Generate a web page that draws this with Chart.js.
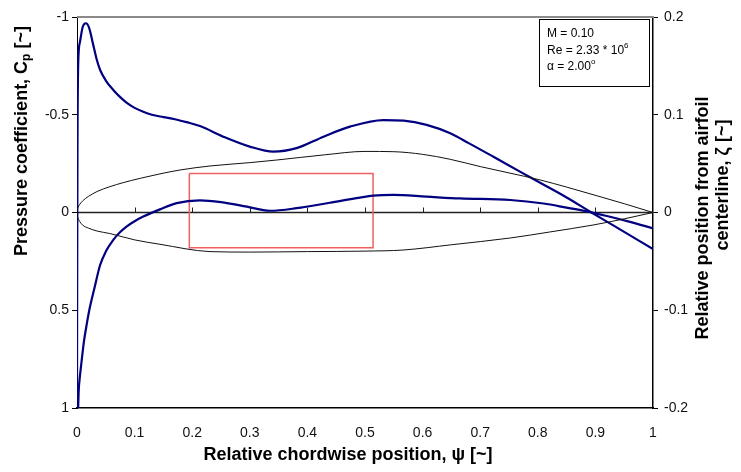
<!DOCTYPE html>
<html>
<head>
<meta charset="utf-8">
<script src="https://cdn.jsdelivr.net/npm/chart.js@4/dist/chart.umd.min.js"></script>
<style>
  html, body { margin: 0; padding: 0; background: #fff; }
  #wrap { width: 741px; height: 472px; }
</style>
</head>
<body>
<div id="wrap"><canvas id="c" width="741" height="472"></canvas></div>
<script>
// Pressure distribution, suction side (Cp vs chordwise position)
const upperX  = [0, 0.0002, 0.0008, 0.002, 0.005, 0.01, 0.0155, 0.021, 0.028, 0.034, 0.04, 0.05, 0.063, 0.075, 0.086, 0.1, 0.115, 0.13, 0.15, 0.17, 0.19, 0.2135, 0.254, 0.3, 0.341, 0.381, 0.428, 0.474, 0.532, 0.567, 0.607, 0.648, 0.68, 0.723, 0.769, 0.804, 0.85, 0.891, 0.931, 1.0];
const upperCp = [1.0, 0.5, -0.3, -0.75, -0.87, -0.95, -0.968, -0.945, -0.86, -0.785, -0.73, -0.675, -0.627, -0.59, -0.562, -0.535, -0.515, -0.5, -0.488, -0.477, -0.462, -0.442, -0.388, -0.337, -0.311, -0.329, -0.388, -0.439, -0.473, -0.470, -0.448, -0.405, -0.355, -0.285, -0.209, -0.152, -0.077, -0.004, 0.066, 0.187];

// Pressure distribution, pressure side
const lowerX  = [0.002, 0.003, 0.005, 0.008, 0.012, 0.017, 0.022, 0.03, 0.04, 0.05, 0.063, 0.075, 0.086, 0.1, 0.115, 0.144, 0.173, 0.2135, 0.25, 0.295, 0.335, 0.381, 0.439, 0.491, 0.514, 0.549, 0.607, 0.665, 0.752, 0.81, 0.85, 0.885, 0.92, 0.96, 1.0];
const lowerCp = [1.0, 0.91, 0.84, 0.76, 0.66, 0.57, 0.49, 0.39, 0.27, 0.2, 0.14, 0.1, 0.072, 0.045, 0.021, -0.016, -0.048, -0.062, -0.053, -0.03, -0.009, -0.022, -0.05, -0.076, -0.086, -0.09, -0.081, -0.072, -0.064, -0.046, -0.025, -0.006, 0.018, 0.048, 0.081];

// Airfoil contour (relative position from centerline)
const foilUpperX    = [0, 0.0005, 0.002, 0.005, 0.01, 0.02, 0.035, 0.057, 0.08, 0.11, 0.144, 0.179, 0.231, 0.3, 0.347, 0.43, 0.5, 0.55, 0.6, 0.648, 0.7, 0.75, 0.804, 0.85, 0.908, 0.95, 1.0];
const foilUpperZeta = [0, 0.0027, 0.0054, 0.0085, 0.012, 0.0165, 0.0215, 0.0264, 0.0305, 0.035, 0.0395, 0.0435, 0.0476, 0.051, 0.0537, 0.059, 0.0625, 0.0622, 0.0595, 0.0544, 0.047, 0.0405, 0.0333, 0.026, 0.0162, 0.009, 0];
const foilLowerX    = [0, 0.0005, 0.002, 0.005, 0.01, 0.02, 0.035, 0.057, 0.1, 0.144, 0.231, 0.3, 0.4, 0.5, 0.566, 0.65, 0.752, 0.82, 0.896, 0.95, 1.0];
const foilLowerZeta = [0, -0.003, -0.006, -0.0095, -0.013, -0.016, -0.019, -0.0215, -0.028, -0.0325, -0.04, -0.0405, -0.04, -0.0395, -0.0384, -0.033, -0.0261, -0.02, -0.0128, -0.0065, 0];

// Highlighted region
const boxX    = [0.195, 0.514, 0.514, 0.195, 0.195];
const boxZeta = [0.04, 0.04, -0.036, -0.036, 0.04];

// Axis ticks
const chordTicks = [0, 0.1, 0.2, 0.3, 0.4, 0.5, 0.6, 0.7, 0.8, 0.9, 1];
const cpTicks    = [-1, -0.5, 0, 0.5, 1];
const zetaTicks  = [0.2, 0.1, 0, -0.1, -0.2];

const pts = (xs, ys) => xs.map((x, i) => ({ x, y: ys[i] }));

const FONT = '"Liberation Sans", Arial, Helvetica, sans-serif';
const NAVY = '#000080';

// Draws the zero line, frame, axis titles and the flow-condition box
const decor = {
  id: 'decor',
  beforeDatasetsDraw(chart) {
    const { ctx, chartArea: a, scales } = chart;
    const y0 = scales.y.getPixelForValue(0);
    ctx.save();
    ctx.strokeStyle = '#222';
    ctx.lineWidth = 1.5;
    ctx.beginPath();
    ctx.moveTo(a.left, y0);
    ctx.lineTo(a.right, y0);
    ctx.stroke();
    ctx.lineWidth = 1;
    chordTicks.forEach(v => {
      if (v === 0 || v === 1) return;
      const px = Math.round(scales.x.getPixelForValue(v)) + 0.5;
      ctx.beginPath();
      ctx.moveTo(px, y0);
      ctx.lineTo(px, y0 - 5);
      ctx.stroke();
    });
    ctx.restore();
  },
  afterDraw(chart) {
    const { ctx, chartArea: a } = chart;
    ctx.save();
    // top frame line
    ctx.strokeStyle = '#8a8a8a';
    ctx.lineWidth = 2;
    ctx.beginPath();
    ctx.moveTo(a.left, a.top);
    ctx.lineTo(a.right + 1, a.top);
    ctx.stroke();

    ctx.fillStyle = '#000';
    ctx.textBaseline = 'middle';
    const bold = s => 'bold ' + s + 'px ' + FONT;

    // runs of [text, size, baseline shift]
    const drawRuns = (runs, cx, cy, rot) => {
      ctx.save();
      ctx.translate(cx, cy);
      ctx.rotate(rot);
      let w = 0;
      runs.forEach(r => { ctx.font = bold(r[1]); w += ctx.measureText(r[0]).width; });
      let x = -w / 2;
      ctx.textAlign = 'left';
      runs.forEach(r => {
        ctx.font = bold(r[1]);
        ctx.fillText(r[0], x, r[2]);
        x += ctx.measureText(r[0]).width;
      });
      ctx.restore();
    };

    drawRuns([['Pressure coefficient, C', 18, 0], ['p', 12, 5], [' [~]', 18, 0]], 22, 141, -Math.PI / 2);
    drawRuns([['Relative position from airfoil', 18, 0]], 703, 218, -Math.PI / 2);
    drawRuns([['centerline, \u03b6 [~]', 18, 0]], 723, 185, -Math.PI / 2);
    drawRuns([['Relative chordwise position, \u03c8 [~]', 18, 0]], 348, 455, 0);

    // flow condition box
    ctx.strokeStyle = '#000';
    ctx.lineWidth = 1;
    ctx.strokeRect(539.5, 19.5, 110, 67);
    const reg = s => s + 'px ' + FONT;
    const line = (runs, x, y) => {
      let cx = x;
      runs.forEach(r => {
        ctx.font = reg(r[1]);
        ctx.fillText(r[0], cx, y + r[2]);
        cx += ctx.measureText(r[0]).width;
      });
    };
    ctx.textAlign = 'left';
    line([['M = 0.10', 12, 0]], 547, 34);
    line([['Re = 2.33 * 10', 12, 0], ['6', 8, -5]], 547, 51);
    line([['\u03b1 = 2.00', 12, 0], ['o', 8, -5]], 547, 67);
    ctx.restore();
  }
};

const plain = v => String(v);

new Chart(document.getElementById('c'), {
  type: 'scatter',
  data: {
    datasets: [
      { data: pts(foilUpperX, foilUpperZeta), yAxisID: 'y2', showLine: true, borderColor: '#111', borderWidth: 1, pointRadius: 0, cubicInterpolationMode: 'monotone' },
      { data: pts(foilLowerX, foilLowerZeta), yAxisID: 'y2', showLine: true, borderColor: '#111', borderWidth: 1, pointRadius: 0, cubicInterpolationMode: 'monotone' },
      { data: pts(upperX, upperCp), yAxisID: 'y', showLine: true, borderColor: NAVY, borderWidth: 2.2, pointRadius: 0, cubicInterpolationMode: 'monotone' },
      { data: pts(lowerX, lowerCp), yAxisID: 'y', showLine: true, borderColor: NAVY, borderWidth: 2.2, pointRadius: 0, cubicInterpolationMode: 'monotone' },
      { data: pts(boxX, boxZeta), yAxisID: 'y2', showLine: true, borderColor: '#f06060', borderWidth: 1.5, pointRadius: 0, tension: 0 }
    ]
  },
  options: {
    responsive: false,
    animation: false,
    devicePixelRatio: 1,
    layout: { padding: { top: 17, left: 0, right: 0, bottom: 0 } },
    plugins: { legend: { display: false }, tooltip: { enabled: false } },
    scales: {
      x: {
        type: 'linear', position: 'bottom', min: 0, max: 1,
        afterBuildTicks: s => { s.ticks = chordTicks.map(v => ({ value: v })); },
        afterFit: s => { s.height = 64; },
        grid: { display: false, drawTicks: false },
        border: { display: true, color: '#000', width: 1.5 },
        ticks: { padding: 17, color: '#111', font: { family: FONT, size: 14 }, maxRotation: 0, autoSkip: false, callback: plain }
      },
      y: {
        type: 'linear', position: 'left', min: -1, max: 1, reverse: true,
        afterBuildTicks: s => { s.ticks = cpTicks.map(v => ({ value: v })); },
        afterFit: s => { s.width = 77; },
        grid: { display: true, drawOnChartArea: false, drawTicks: true, tickLength: 5, color: '#000' },
        border: { display: true, color: '#000', width: 1 },
        ticks: { padding: 3, color: '#111', font: { family: FONT, size: 14 }, callback: plain }
      },
      y2: {
        type: 'linear', position: 'right', min: -0.2, max: 0.2,
        afterBuildTicks: s => { s.ticks = zetaTicks.map(v => ({ value: v })); },
        afterFit: s => { s.width = 88; },
        grid: { display: true, drawOnChartArea: false, drawTicks: true, tickLength: 5, color: '#000' },
        border: { display: true, color: '#000', width: 1.5 },
        ticks: { padding: 6, color: '#111', font: { family: FONT, size: 14 }, callback: plain }
      }
    }
  },
  plugins: [decor]
});
</script>
</body>
</html>
